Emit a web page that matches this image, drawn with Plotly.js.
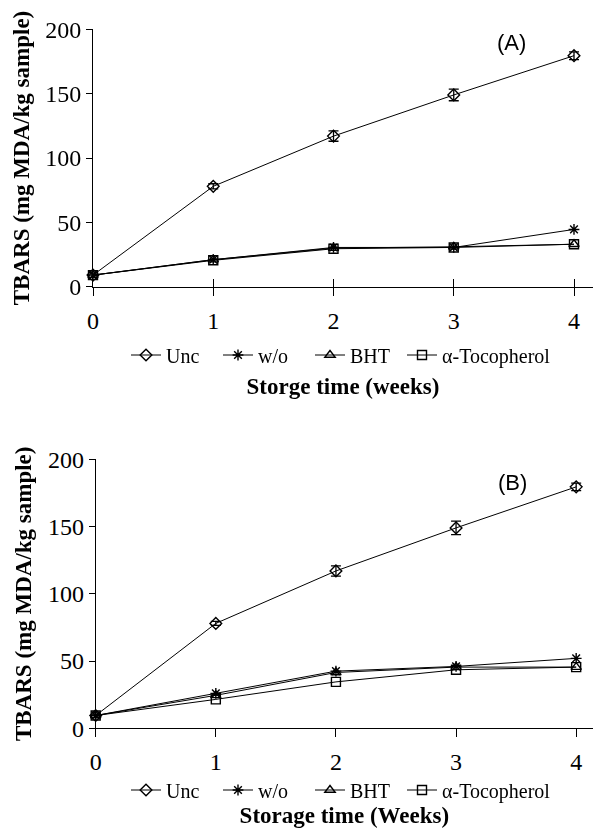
<!DOCTYPE html>
<html>
<head>
<meta charset="utf-8">
<script src="https://cdn.plot.ly/plotly-3.0.1.min.js"></script>
<style>html,body{margin:0;padding:0;background:#fff;}#chart{width:593px;height:829px;}</style>
</head>
<body>
<div id="chart"></div>
<script>
// ---- data ----
var weeks = [0, 1, 2, 3, 4];
var seriesNames = ["Unc", "w/o", "BHT", "\u03b1-Tocopherol"];
var xTickLabels = ["0", "1", "2", "3", "4"];
var yTickValues = [0, 50, 100, 150, 200];

// Panel A
var A_unc = [9, 78, 117, 149, 179.5];
var A_wo = [9, 21, 30.5, 30.5, 44.5];
var A_bht = [9, 21, 30, 31, 33];
var A_toc = [9, 20.5, 29.5, 30.5, 33];
var A_unc_err = [0.5, 2, 4, 4.5, 3];

// Panel B
var B_unc = [9.5, 78, 117, 149, 179.5];
var B_wo = [9.5, 26, 42.5, 46, 52];
var B_bht = [9.5, 24.5, 41.5, 45.5, 45.5];
var B_toc = [9.5, 21.5, 34.5, 43.5, 45.5];
var B_unc_err = [0.5, 1.5, 3.8, 5, 2.8];

var symbols = ["diamond-open", "asterisk-open", "triangle-up-open", "square-open"];

function mk(name, y, sym, xa, ya, leg, err, lw) {
  var t = {
    type: "scatter", mode: "lines+markers", name: name,
    x: weeks, y: y, xaxis: xa, yaxis: ya, legend: leg,
    line: {color: "#000", width: 1},
    marker: {symbol: sym, size: 9, color: "#000", line: {color: "#000", width: 1.4}},
    cliponaxis: false
  };
  if (lw) t.legendwidth = lw;
  if (err) t.error_y = {type: "data", array: err, visible: true, color: "#000", thickness: 1.3, width: 5};
  return t;
}

var data = [
  mk(seriesNames[0], A_unc, symbols[0], "x", "y", "legend", A_unc_err),
  mk(seriesNames[1], A_wo, symbols[1], "x", "y", "legend"),
  mk(seriesNames[2], A_bht, symbols[2], "x", "y", "legend"),
  mk(seriesNames[3], A_toc, symbols[3], "x", "y", "legend", null, 140),
  mk(seriesNames[0], B_unc, symbols[0], "x2", "y2", "legend2", B_unc_err),
  mk(seriesNames[1], B_wo, symbols[1], "x2", "y2", "legend2"),
  mk(seriesNames[2], B_bht, symbols[2], "x2", "y2", "legend2"),
  mk(seriesNames[3], B_toc, symbols[3], "x2", "y2", "legend2", null, 140),
  // invisible helper so the overlay axis (upward tick halves of panel A) is drawn
  {type: "scatter", mode: "markers", x: weeks, y: A_unc, xaxis: "x3", yaxis: "y", opacity: 0, showlegend: false, hoverinfo: "skip", marker: {size: 1}}
];

var serif = "Liberation Serif, Times New Roman, serif";
var tickFont = {family: serif, size: 24, color: "#000"};
var titleFont = {family: serif, size: 23, color: "#000", weight: "bold"};
var legFont = {family: serif, size: 20, color: "#000"};

function xax(domain, anchor, ticks, title, standoff, range) {
  return {
    domain: domain, anchor: anchor, range: range,
    tickvals: weeks, ticktext: xTickLabels, ticks: ticks, ticklen: 8, tickwidth: 1, tickcolor: "#000",
    showline: true, linecolor: "#000", linewidth: 1, showgrid: false, zeroline: false,
    tickfont: tickFont, ticklabelstandoff: 4,
    title: {text: title, font: titleFont, standoff: standoff}
  };
}
function yax(domain, anchor) {
  return {
    domain: domain, anchor: anchor, range: [0, 200],
    tickvals: yTickValues, ticks: "outside", ticklen: 6, tickwidth: 1, tickcolor: "#000",
    showline: true, linecolor: "#000", linewidth: 1, showgrid: false, zeroline: false,
    tickfont: tickFont,
    title: {text: "TBARS (mg MDA/kg sample)", font: titleFont, standoff: 9}
  };
}

var W = 593, H = 829;
var topY0 = 1 - 286.7 / H;
var layout = {
  width: W, height: H,
  margin: {l: 0, r: 0, t: 0, b: 0},
  paper_bgcolor: "#fff", plot_bgcolor: "#fff",
  showlegend: true,
  xaxis: xax([93 / W, 1], "y", "outside", "<b>Storge time (weeks)</b>", 45, [0, 4.158]),
  xaxis3: {overlaying: "x", anchor: "free", position: topY0, side: "bottom", domain: [93 / W, 1], range: [0, 4.158], tickvals: weeks, ticks: "inside", ticklen: 8, tickwidth: 1, tickcolor: "#000", showticklabels: false, showgrid: false, zeroline: false, showline: true, linecolor: "#000", linewidth: 1},
  yaxis: yax([topY0, 1 - 29.3 / H], "x"),
  xaxis2: xax([95.7 / W, 1], "y2", "outside", "<b>Storage time (Weeks)</b>", 32, [0, 4.14]),
  yaxis2: yax([1 - 728.3 / H, 1 - 459.3 / H], "x2"),
  legend: {orientation: "h", x: 126 / W, xanchor: "left", y: 1 - 355 / H, yanchor: "middle", font: legFont, bgcolor: "rgba(0,0,0,0)", entrywidth: 47, entrywidthmode: "pixels", tracegroupgap: 0},
  legend2: {orientation: "h", x: 126 / W, xanchor: "left", y: 1 - 790 / H, yanchor: "middle", font: legFont, bgcolor: "rgba(0,0,0,0)", entrywidth: 47, entrywidthmode: "pixels", tracegroupgap: 0},
  annotations: [
    {text: "(A)", xref: "x", yref: "y", x: 3.48, y: 190, showarrow: false, font: {family: "Liberation Sans, Arial, sans-serif", size: 22, color: "#000"}},
    {text: "(B)", xref: "x2", yref: "y2", x: 3.47, y: 183, showarrow: false, font: {family: "Liberation Sans, Arial, sans-serif", size: 22, color: "#000"}}
  ]
};

Plotly.newPlot("chart", data, layout, {displayModeBar: false, staticPlot: true});
</script>
</body>
</html>
